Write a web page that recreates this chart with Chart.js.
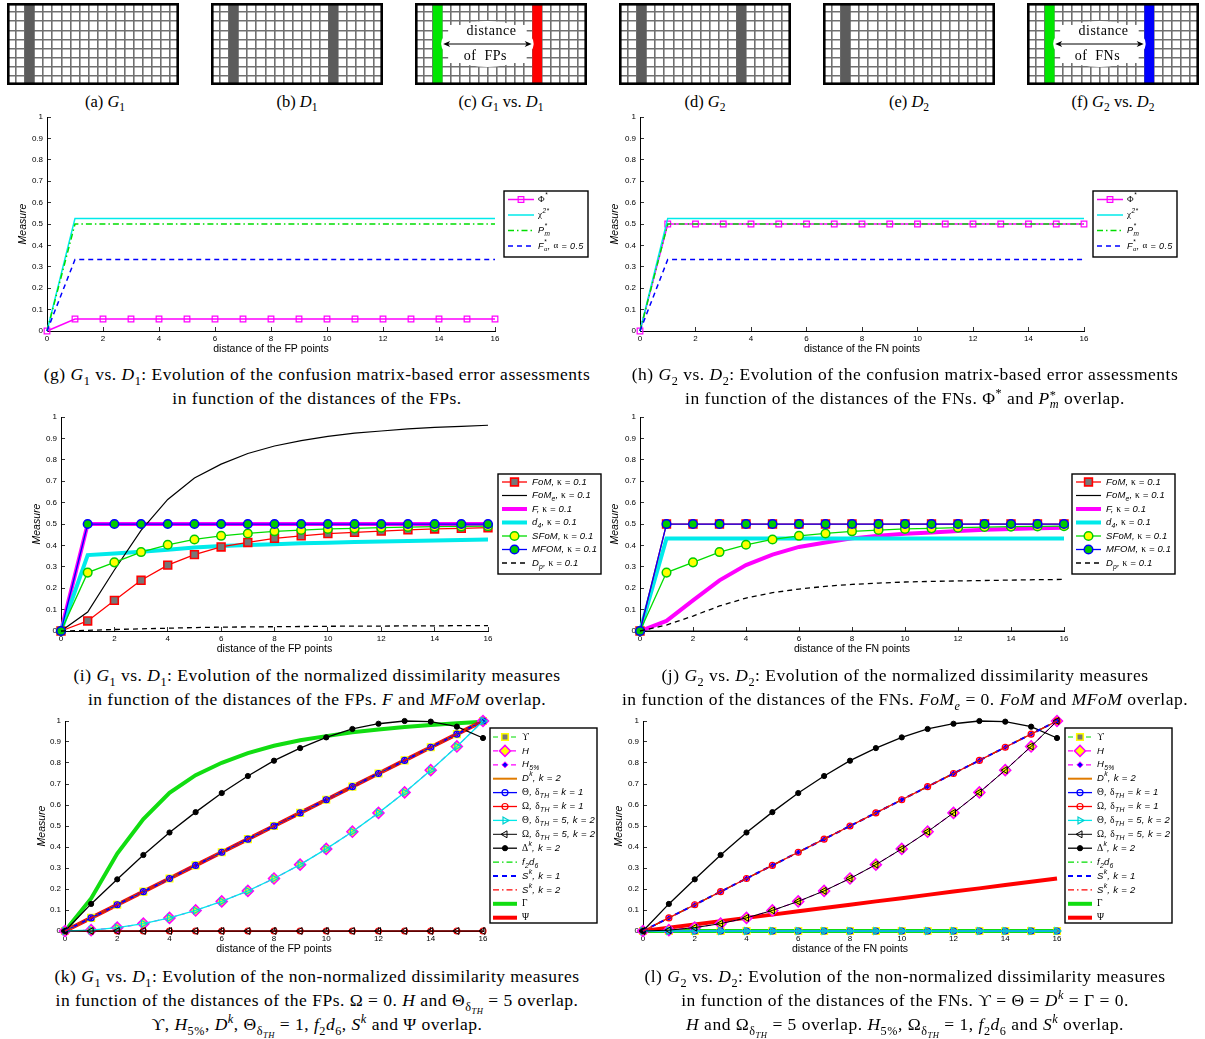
<!DOCTYPE html>
<html>
<head>
<meta charset="utf-8">
<title>Evolution of the error assessments in function of the distances of the FPs / FNs</title>
<script src="https://cdn.jsdelivr.net/npm/chart.js"></script>
<style>
  body { margin: 0; background: #fff; }
  #page { position: relative; width: 1205px; height: 1039px; overflow: hidden; background: #fff; }
  canvas { position: absolute; }
  .cap { position: absolute; width: 600px; text-align: center; font-family: "Liberation Serif", "Times New Roman", serif;
         font-size: 17.5px; letter-spacing: 0.5px; line-height: 24px; color: #000; white-space: nowrap; }
  .capTop { position: absolute; width: 172px; top: 91px; text-align: center; font-family: "Liberation Serif", serif;
            font-size: 16.5px; line-height: 22px; white-space: nowrap; }
  sub, sup { font-size: 70%; line-height: 0; }
  .ss { display: inline-block; vertical-align: -4px; font-size: 70%; line-height: 9px; text-align: left; }
  .ss span { display: block; }
</style>
</head>
<body>
<div id="page">
  <canvas id="ga" width="172" height="82" style="left:7px;top:3px"></canvas>
  <canvas id="gb" width="172" height="82" style="left:211px;top:3px"></canvas>
  <canvas id="gc" width="172" height="82" style="left:415px;top:3px"></canvas>
  <canvas id="gd" width="172" height="82" style="left:619px;top:3px"></canvas>
  <canvas id="ge" width="172" height="82" style="left:823px;top:3px"></canvas>
  <canvas id="gf" width="172" height="82" style="left:1027px;top:3px"></canvas>
  <div class="capTop" style="left:19px">(a) <i>G</i><sub>1</sub></div>
  <div class="capTop" style="left:211px">(b) <i>D</i><sub>1</sub></div>
  <div class="capTop" style="left:415px">(c) <i>G</i><sub>1</sub> vs. <i>D</i><sub>1</sub></div>
  <div class="capTop" style="left:619px">(d) <i>G</i><sub>2</sub></div>
  <div class="capTop" style="left:823px">(e) <i>D</i><sub>2</sub></div>
  <div class="capTop" style="left:1027px">(f) <i>G</i><sub>2</sub> vs. <i>D</i><sub>2</sub></div>

  <canvas id="cg" width="605" height="250" style="left:0px;top:110px"></canvas>
  <canvas id="ch" width="605" height="250" style="left:600px;top:110px"></canvas>
  <canvas id="ci" width="605" height="250" style="left:0px;top:410px"></canvas>
  <canvas id="cj" width="605" height="250" style="left:600px;top:410px"></canvas>
  <canvas id="ck" width="605" height="250" style="left:0px;top:712px"></canvas>
  <canvas id="cl" width="605" height="250" style="left:600px;top:712px"></canvas>

  <div class="cap" style="left:17px;top:362px">(g) <i>G</i><sub>1</sub> vs. <i>D</i><sub>1</sub>: Evolution of the confusion matrix-based error assessments<br>in function of the distances of the FPs.</div>
  <div class="cap" style="left:605px;top:362px">(h) <i>G</i><sub>2</sub> vs. <i>D</i><sub>2</sub>: Evolution of the confusion matrix-based error assessments<br>in function of the distances of the FNs. Φ<sup>*</sup> and <i>P</i><span class="ss"><span>*</span><span><i>m</i></span></span> overlap.</div>
  <div class="cap" style="left:17px;top:663px">(i) <i>G</i><sub>1</sub> vs. <i>D</i><sub>1</sub>: Evolution of the normalized dissimilarity measures<br>in function of the distances of the FPs. <i>F</i> and <i>MFoM</i> overlap.</div>
  <div class="cap" style="left:605px;top:663px">(j) <i>G</i><sub>2</sub> vs. <i>D</i><sub>2</sub>: Evolution of the normalized dissimilarity measures<br>in function of the distances of the FNs. <i>FoM<sub>e</sub></i> = 0. <i>FoM</i> and <i>MFoM</i> overlap.</div>
  <div class="cap" style="left:17px;top:964px">(k) <i>G</i><sub>1</sub> vs. <i>D</i><sub>1</sub>: Evolution of the non-normalized dissimilarity measures<br>in function of the distances of the FPs. Ω = 0. <i>H</i> and Θ<sub>δ<sub><i>TH</i></sub></sub> = 5 overlap.<br>ϒ, <i>H</i><sub>5%</sub>, <i>D<sup>k</sup></i>, Θ<sub>δ<sub><i>TH</i></sub></sub> = 1, <i>f</i><sub>2</sub><i>d</i><sub>6</sub>, <i>S<sup>k</sup></i> and Ψ overlap.</div>
  <div class="cap" style="left:605px;top:964px">(l) <i>G</i><sub>2</sub> vs. <i>D</i><sub>2</sub>: Evolution of the non-normalized dissimilarity measures<br>in function of the distances of the FNs. ϒ = Θ = <i>D<sup>k</sup></i> = Γ = 0.<br><i>H</i> and Ω<sub>δ<sub><i>TH</i></sub></sub> = 5 overlap. <i>H</i><sub>5%</sub>, Ω<sub>δ<sub><i>TH</i></sub></sub> = 1, <i>f</i><sub>2</sub><i>d</i><sub>6</sub> and <i>S<sup>k</sup></i> overlap.</div>
</div>

<script>
// ---- data ----
const xDist = [0, 1, 2, 3, 4, 5, 6, 7, 8, 9, 10, 11, 12, 13, 14, 15, 16];

// small grid images (columns holding edge pixels)
const gridCols = 19;
const gridRows = 9;
const colsG1 = [2];
const colsD1 = [2, 13];
const colsG2 = [2, 13];
const colsD2 = [2];

// (g) G1 vs D1, confusion matrix based
const gPhi = [0, 0.056, 0.056, 0.056, 0.056, 0.056, 0.056, 0.056, 0.056, 0.056, 0.056, 0.056, 0.056, 0.056, 0.056, 0.056, 0.056];
const gChi = [0, 0.526, 0.526, 0.526, 0.526, 0.526, 0.526, 0.526, 0.526, 0.526, 0.526, 0.526, 0.526, 0.526, 0.526, 0.526, 0.526];
const gPm  = [0, 0.5, 0.5, 0.5, 0.5, 0.5, 0.5, 0.5, 0.5, 0.5, 0.5, 0.5, 0.5, 0.5, 0.5, 0.5, 0.5];
const gFa  = [0, 0.334, 0.334, 0.334, 0.334, 0.334, 0.334, 0.334, 0.334, 0.334, 0.334, 0.334, 0.334, 0.334, 0.334, 0.334, 0.334];

// (h) G2 vs D2, confusion matrix based
const hPhi = [0, 0.5, 0.5, 0.5, 0.5, 0.5, 0.5, 0.5, 0.5, 0.5, 0.5, 0.5, 0.5, 0.5, 0.5, 0.5, 0.5];
const hChi = [0, 0.526, 0.526, 0.526, 0.526, 0.526, 0.526, 0.526, 0.526, 0.526, 0.526, 0.526, 0.526, 0.526, 0.526, 0.526, 0.526];
const hPm  = [0, 0.5, 0.5, 0.5, 0.5, 0.5, 0.5, 0.5, 0.5, 0.5, 0.5, 0.5, 0.5, 0.5, 0.5, 0.5, 0.5];
const hFa  = [0, 0.334, 0.334, 0.334, 0.334, 0.334, 0.334, 0.334, 0.334, 0.334, 0.334, 0.334, 0.334, 0.334, 0.334, 0.334, 0.334];

// (i) G1 vs D1, normalized
const iFoM  = [0, 0.047, 0.143, 0.237, 0.308, 0.357, 0.393, 0.414, 0.433, 0.445, 0.455, 0.461, 0.467, 0.473, 0.477, 0.48, 0.483];
const iFoMe = [0, 0.089, 0.285, 0.47, 0.615, 0.715, 0.78, 0.83, 0.865, 0.89, 0.91, 0.925, 0.935, 0.945, 0.952, 0.957, 0.962];
const iF    = [0, 0.5, 0.5, 0.5, 0.5, 0.5, 0.5, 0.5, 0.5, 0.5, 0.5, 0.5, 0.5, 0.5, 0.5, 0.5, 0.5];
const iD4   = [0, 0.355, 0.362, 0.37, 0.38, 0.39, 0.397, 0.402, 0.406, 0.41, 0.413, 0.416, 0.419, 0.421, 0.423, 0.426, 0.428];
const iSFoM = [0, 0.273, 0.321, 0.369, 0.403, 0.428, 0.445, 0.456, 0.466, 0.472, 0.477, 0.48, 0.483, 0.486, 0.488, 0.489, 0.49];
const iMFoM = [0, 0.5, 0.5, 0.5, 0.5, 0.5, 0.5, 0.5, 0.5, 0.5, 0.5, 0.5, 0.5, 0.5, 0.5, 0.5, 0.5];
const iDp   = [0, 0.003, 0.007, 0.01, 0.013, 0.016, 0.018, 0.019, 0.02, 0.021, 0.022, 0.023, 0.023, 0.024, 0.024, 0.025, 0.025];

// (j) G2 vs D2, normalized
const jFoM  = [0, 0.5, 0.5, 0.5, 0.5, 0.5, 0.5, 0.5, 0.5, 0.5, 0.5, 0.5, 0.5, 0.5, 0.5, 0.5, 0.5];
const jFoMe = [0, 0, 0, 0, 0, 0, 0, 0, 0, 0, 0, 0, 0, 0, 0, 0, 0];
const jF    = [0, 0.047, 0.143, 0.237, 0.308, 0.357, 0.393, 0.414, 0.433, 0.445, 0.455, 0.461, 0.467, 0.473, 0.477, 0.48, 0.483];
const jD4   = [0, 0.433, 0.433, 0.433, 0.433, 0.433, 0.433, 0.433, 0.433, 0.433, 0.433, 0.433, 0.433, 0.433, 0.433, 0.433, 0.433];
const jSFoM = [0, 0.273, 0.321, 0.369, 0.403, 0.428, 0.445, 0.456, 0.466, 0.472, 0.477, 0.48, 0.483, 0.486, 0.488, 0.489, 0.49];
const jMFoM = [0, 0.5, 0.5, 0.5, 0.5, 0.5, 0.5, 0.5, 0.5, 0.5, 0.5, 0.5, 0.5, 0.5, 0.5, 0.5, 0.5];
const jDp   = [0, 0.028, 0.07, 0.117, 0.154, 0.179, 0.196, 0.209, 0.218, 0.224, 0.229, 0.232, 0.234, 0.236, 0.238, 0.24, 0.241];

// (k) / (l) non-normalized: the overlapping curves share one read-off series each
const onLine   = [0, 0.0625, 0.125, 0.1875, 0.25, 0.3125, 0.375, 0.4375, 0.5, 0.5625, 0.625, 0.6875, 0.75, 0.8125, 0.875, 0.9375, 1];
const onCurve  = [0, 0.004, 0.016, 0.035, 0.0625, 0.098, 0.141, 0.191, 0.25, 0.316, 0.391, 0.473, 0.5625, 0.66, 0.766, 0.879, 1];
const atZero   = [0, 0, 0, 0, 0, 0, 0, 0, 0, 0, 0, 0, 0, 0, 0, 0, 0];
const deltaK   = [0, 0.129, 0.246, 0.362, 0.469, 0.566, 0.657, 0.738, 0.811, 0.871, 0.922, 0.962, 0.987, 1, 0.997, 0.973, 0.919];
const kGamma   = [0, 0.155, 0.369, 0.533, 0.658, 0.742, 0.801, 0.847, 0.882, 0.908, 0.928, 0.946, 0.96, 0.971, 0.981, 0.989, 0.997];
const lPsi     = [0, 0.016, 0.031, 0.047, 0.0625, 0.078, 0.094, 0.109, 0.125, 0.141, 0.156, 0.172, 0.188, 0.203, 0.219, 0.234, 0.25];

// ---- helpers ----
const SANS = '"Liberation Sans", Arial, sans-serif';
const SERIF = '"Liberation Serif", "Times New Roman", serif';
Chart.defaults.font.family = SANS;
Chart.defaults.color = '#000';

const DASH = [5, 4];
const DASHDOT = [6, 3, 1.5, 3];

function ds(label, rich, data, st) {
  return {
    label: label,
    rich: rich,
    data: data.map((v, i) => ({ x: xDist[i], y: v })),
    borderColor: st.c,
    borderWidth: st.w || 1.3,
    borderDash: st.dash || [],
    pointRadius: st.r || 0,
    pointHoverRadius: st.r || 0,
    pointStyle: st.ps || 'circle',
    pointRotation: st.rot || 0,
    pointBackgroundColor: st.fill || 'rgba(0,0,0,0)',
    pointBorderColor: st.pc || st.c,
    pointBorderWidth: st.pw || 1,
    tension: 0,
    fill: false,
    clip: false
  };
}

// matlab draws later lines on top, thick lines sit underneath the markers
function stack(list) {
  const n = list.length;
  list.forEach((d, i) => { d.order = (d.borderWidth >= 3 ? 100 : 0) + (n - i); });
  return list;
}

function isGreek(ch) { return /[\u0370-\u03FF]/.test(ch); }

// text with ^{..} and _{..}, latin in italic sans, greek upright serif
function drawRich(ctx, str, x, y, size, ls) {
  const runs = [];
  let mode = 0, buf = '';
  const push = () => { if (buf) runs.push({ t: buf, m: mode }); buf = ''; };
  for (let i = 0; i < str.length; i++) {
    const c = str[i];
    if ((c === '^' || c === '_') && str[i + 1] === '{') { push(); mode = c === '^' ? 1 : 2; i++; continue; }
    if (c === '}' && mode) { push(); mode = 0; continue; }
    buf += c;
  }
  push();
  ctx.textBaseline = 'middle';
  ctx.textAlign = 'left';
  ctx.fillStyle = '#000';
  if ('letterSpacing' in ctx) ctx.letterSpacing = (ls || 0) + 'px';
  let cx = x, supX = x, supEnd = x;
  runs.forEach((r, k) => {
    const fs = r.m ? size * 0.72 : size;
    const dy = r.m === 1 ? -size * 0.45 : (r.m === 2 ? size * 0.38 : 0);
    const stacked = r.m === 2 && k > 0 && runs[k - 1].m === 1;
    let px = stacked ? supX : cx;
    if (r.m === 1) supX = cx;
    let seg = '', segG = null;
    const flush = () => {
      if (!seg) return;
      ctx.font = segG ? fs + 'px ' + SERIF : 'italic ' + fs + 'px ' + SANS;
      ctx.fillText(seg, px, y + dy);
      px += ctx.measureText(seg).width;
      seg = '';
    };
    for (const ch of r.t) {
      const g = isGreek(ch);
      if (segG !== null && g !== segG) flush();
      segG = g;
      seg += ch;
    }
    flush();
    if (r.m === 1) supEnd = px;
    cx = stacked ? Math.max(supEnd, px) : px;
  });
  if ('letterSpacing' in ctx) ctx.letterSpacing = '0px';
}

const richLegend = {
  id: 'richLegend',
  afterDraw(chart, args, o) {
    if (!o || !o.w) return;
    const ctx = chart.ctx;
    ctx.save();
    ctx.setLineDash([]);
    ctx.fillStyle = '#fff';
    ctx.fillRect(o.x, o.y, o.w, o.h);
    ctx.lineWidth = 1.4;
    ctx.strokeStyle = '#000';
    ctx.strokeRect(o.x, o.y, o.w, o.h);
    chart.data.datasets.forEach((d, i) => {
      const y = o.y + o.first + i * o.step;
      ctx.save();
      ctx.strokeStyle = d.borderColor;
      ctx.lineWidth = d.borderWidth;
      ctx.setLineDash(d.borderDash);
      ctx.beginPath();
      ctx.moveTo(o.x + o.s0, y);
      ctx.lineTo(o.x + o.s1, y);
      ctx.stroke();
      ctx.restore();
      if (d.pointRadius > 0) {
        ctx.save();
        ctx.setLineDash([]);
        ctx.fillStyle = d.pointBackgroundColor;
        ctx.strokeStyle = d.pointBorderColor;
        ctx.lineWidth = d.pointBorderWidth;
        Chart.helpers.drawPoint(ctx, { pointStyle: d.pointStyle, rotation: d.pointRotation, radius: d.pointRadius, borderWidth: d.pointBorderWidth }, o.x + (o.s0 + o.s1) / 2, y);
        ctx.restore();
      }
      drawRich(ctx, d.rich, o.x + o.tx, y, o.font, o.ls);
    });
    ctx.restore();
  }
};

const tickText = v => String(Math.round(v * 100) / 100);

function lineChart(id, geo, xTitle, datasets, lg) {
  const lh = 10.5 * 1.2;
  new Chart(document.getElementById(id), {
    type: 'line',
    data: { datasets: stack(datasets) },
    options: {
      responsive: false,
      animation: false,
      events: [],
      layout: { padding: { left: 0, bottom: 0, top: geo.ay0 - geo.cy, right: geo.cx + geo.cw - geo.ax1 } },
      plugins: {
        legend: { display: false },
        tooltip: { enabled: false },
        richLegend: {
          x: lg.x - geo.cx, y: lg.y - geo.cy, w: lg.w, h: lg.h,
          first: lg.first, step: lg.step, s0: lg.s0, s1: lg.s1, tx: lg.tx, font: lg.font, ls: lg.ls
        }
      },
      scales: {
        x: {
          type: 'linear', min: 0, max: 16,
          ticks: { stepSize: 2, font: { size: 8 }, color: '#000', padding: 7, maxRotation: 0, callback: tickText },
          grid: { drawOnChartArea: false, tickLength: -4, color: '#000', lineWidth: 0.8 },
          border: { color: '#000', width: 1 },
          title: { display: true, text: xTitle, color: '#000', font: { size: 10.5 },
                   padding: { top: 0, bottom: geo.cy + geo.ch - geo.xty - lh / 2 } },
          afterFit: s => { s.height = geo.cy + geo.ch - geo.ay1; s.paddingLeft = 0; s.paddingRight = 0; }
        },
        y: {
          min: 0, max: 1,
          ticks: { stepSize: 0.1, font: { size: 8 }, color: '#000', padding: 8, callback: tickText },
          grid: { drawOnChartArea: false, tickLength: -4, color: '#000', lineWidth: 0.8 },
          border: { color: '#000', width: 1 },
          title: { display: true, text: 'Measure', color: '#000', font: { size: 10.5, style: 'italic' },
                   padding: { top: geo.ytx - geo.cx - lh / 2, bottom: 0 } },
          afterFit: s => { s.width = geo.ax0 - geo.cx; s.paddingTop = 0; s.paddingBottom = 0; }
        }
      }
    },
    plugins: [richLegend]
  });
}

// ---- small grid pictures ----
const framePlugin = {
  id: 'frame',
  afterDraw(chart, args, o) {
    const ctx = chart.ctx, a = chart.chartArea;
    ctx.save();
    if (o && o.top) {
      const xs = chart.scales.x, ys = chart.scales.y;
      const cw = a.width / gridCols;
      const x0 = xs.getPixelForValue(3) - cw / 2 + 1, x1 = xs.getPixelForValue(13) - cw / 2 - 1;
      const yb0 = ys.getPixelForValue(6.7), yb1 = ys.getPixelForValue(2.3);
      ctx.fillStyle = '#fff';
      ctx.beginPath();
      ctx.ellipse((x0 + x1) / 2, (yb0 + yb1) / 2, (x1 - x0) / 2 + 2, (yb1 - yb0) / 2 + 3, 0, 0, Math.PI * 2);
      ctx.fill();
      ctx.fillRect(x0 + 5, yb0 + 1, x1 - x0 - 10, yb1 - yb0 - 2);
      const ya = ys.getPixelForValue(4.5);
      ctx.strokeStyle = '#000'; ctx.fillStyle = '#000'; ctx.lineWidth = 1;
      ctx.beginPath(); ctx.moveTo(x0 + 3, ya); ctx.lineTo(x1 - 3, ya); ctx.stroke();
      [[x0, 1], [x1, -1]].forEach(([px, dir]) => {
        ctx.beginPath(); ctx.moveTo(px, ya); ctx.lineTo(px + dir * 7, ya - 3); ctx.lineTo(px + dir * 5, ya); ctx.lineTo(px + dir * 7, ya + 3); ctx.closePath(); ctx.fill();
      });
      ctx.font = '14px ' + SERIF;
      if ('letterSpacing' in ctx) ctx.letterSpacing = '0.5px';
      ctx.textAlign = 'center'; ctx.textBaseline = 'middle';
      ctx.fillText(o.top, (x0 + x1) / 2 + 4, ys.getPixelForValue(5.9));
      ctx.fillText(o.bottom, (x0 + x1) / 2 - 2, ys.getPixelForValue(3.1));
      if ('letterSpacing' in ctx) ctx.letterSpacing = '0px';
    }
    ctx.strokeStyle = '#000';
    ctx.lineWidth = 2.6;
    ctx.strokeRect(a.left + 1.3, a.top + 1.3, a.width - 2.6, a.height - 2.6);
    ctx.restore();
  }
};

function gridChart(id, cols, colors, note) {
  const labels = [], data = [], bg = [];
  for (let c = 0; c < gridCols; c++) {
    const k = cols.indexOf(c);
    labels.push(String(c));
    data.push(k >= 0 ? gridRows : 0);
    bg.push(k >= 0 ? colors[k] : '#fff');
  }
  new Chart(document.getElementById(id), {
    type: 'bar',
    data: { labels: labels, datasets: [{ data: data, backgroundColor: bg, borderWidth: 0, barPercentage: 1, categoryPercentage: 1 }] },
    options: {
      responsive: false, animation: false, events: [],
      layout: { padding: 0 },
      plugins: { legend: { display: false }, tooltip: { enabled: false }, frame: note || {} },
      scales: {
        x: { z: 1, ticks: { display: false }, grid: { offset: true, color: '#707070', lineWidth: 1.6, drawTicks: false },
             border: { display: false }, afterFit: s => { s.height = 0; } },
        y: { z: 1, min: 0, max: gridRows, ticks: { display: false, stepSize: 1 },
             grid: { color: '#707070', lineWidth: 1.6, drawTicks: false },
             border: { display: false }, afterFit: s => { s.width = 0; } }
      }
    },
    plugins: [framePlugin]
  });
}

const DARK = '#5c5c5c';
gridChart('ga', colsG1, [DARK]);
gridChart('gb', colsD1, [DARK, DARK]);
gridChart('gc', colsD1, ['#00e600', '#ff0000'], { top: 'distance', bottom: 'of  FPs' });
gridChart('gd', colsG2, [DARK, DARK]);
gridChart('ge', colsD2, [DARK]);
gridChart('gf', colsG2, ['#00e600', '#0000ff'], { top: 'distance', bottom: 'of  FNs' });

// ---- line charts ----
const CYAN = '#00eaea', GREEN = '#00dd00', MAG = '#ff00ff', BLUE = '#0000ff', RED = '#ff0000', ORANGE = '#e07b00';

function confusionSets(phi, chi, pm, fa) {
  return [
    ds('Φ*', 'Φ^{*}', phi, { c: MAG, w: 1.5, r: 4, ps: 'rect', pc: MAG, pw: 1.2 }),
    ds('χ2*', 'χ^{2*}', chi, { c: CYAN, w: 1.5 }),
    ds('P*m', 'P^{*}_{m}', pm, { c: GREEN, w: 1.5, dash: DASHDOT }),
    ds('F*α, α = 0.5', 'F^{*}_{α}, α = 0.5', fa, { c: BLUE, w: 1.5, dash: DASH })
  ];
}
function normSets(fom, fome, f, d4, sfom, mfom, dp) {
  return [
    ds('FoM, κ = 0.1', 'FoM, κ = 0.1', fom, { c: RED, w: 1.3, r: 5.5, ps: 'rect', fill: '#777777', pc: RED, pw: 1.6 }),
    ds('FoMe, κ = 0.1', 'FoM_{e}, κ = 0.1', fome, { c: '#000', w: 1.2 }),
    ds('F, κ = 0.1', 'F, κ = 0.1', f, { c: MAG, w: 4 }),
    ds('d4, κ = 0.1', 'd_{4}, κ = 0.1', d4, { c: CYAN, w: 4 }),
    ds('SFoM, κ = 0.1', 'SFoM, κ = 0.1', sfom, { c: GREEN, w: 1.3, r: 4.3, fill: '#ffff00', pc: '#00cc00', pw: 1.5 }),
    ds('MFOM, κ = 0.1', 'MFOM, κ = 0.1', mfom, { c: BLUE, w: 1.3, r: 4.3, fill: '#00cc00', pc: BLUE, pw: 1.5 }),
    ds('Dp, κ = 0.1', 'D_{p}, κ = 0.1', dp, { c: '#000', w: 1.3, dash: DASH })
  ];
}
function rawSets(s) {
  return [
    ds('ϒ', 'ϒ', s.upsilon, { c: GREEN, w: 1.2, dash: DASH, r: 4.6, ps: 'rect', fill: '#777777', pc: '#ffff00', pw: 1.6 }),
    ds('H', 'H', s.h, { c: MAG, w: 1.2, dash: DASH, r: 5.5, ps: 'rectRot', fill: '#ffff00', pc: MAG, pw: 1.5 }),
    ds('H5%', 'H_{5%}', s.h5, { c: MAG, w: 1.2, dash: DASH, r: 3, ps: 'rectRot', fill: BLUE, pc: MAG, pw: 1 }),
    ds('Dk, k = 2', 'D^{k}, k = 2', s.dk, { c: ORANGE, w: 2 }),
    ds('Θ, δTH = k = 1', 'Θ, δ_{TH} = k = 1', s.theta1, { c: BLUE, w: 1.3, r: 3, pc: BLUE, pw: 1.2 }),
    ds('Ω, δTH = k = 1', 'Ω, δ_{TH} = k = 1', s.omega1, { c: RED, w: 1.3, r: 3, pc: RED, pw: 1.2 }),
    ds('Θ, δTH = 5, k = 2', 'Θ, δ_{TH} = 5, k = 2', s.theta5, { c: CYAN, w: 1.3, r: 4, ps: 'triangle', rot: 90, pc: '#00d0d0', pw: 1.2 }),
    ds('Ω, δTH = 5, k = 2', 'Ω, δ_{TH} = 5, k = 2', s.omega5, { c: '#000', w: 1, r: 4, ps: 'triangle', rot: -90, pc: '#000', pw: 1 }),
    ds('Δk, k = 2', 'Δ^{k}, k = 2', s.delta, { c: '#000', w: 1.3, r: 2.6, fill: '#000', pc: '#000', pw: 1 }),
    ds('f2d6', 'f_{2}d_{6}', s.f2d6, { c: GREEN, w: 1.3, dash: DASHDOT }),
    ds('Sk, k = 1', 'S^{k}, k = 1', s.s1, { c: BLUE, w: 2, dash: DASH }),
    ds('Sk, k = 2', 'S^{k}, k = 2', s.s2, { c: RED, w: 1.3, dash: DASHDOT }),
    ds('Γ', 'Γ', s.gamma, { c: '#11dd11', w: 4 }),
    ds('Ψ', 'Ψ', s.psi, { c: RED, w: 4 })
  ];
}

const lgConf = { w: 84, h: 66, first: 8.5, step: 15.5, s0: 4, s1: 30, tx: 34, font: 9, ls: 0.4 };
const lgNorm = { w: 103, h: 100, first: 8, step: 13.5, s0: 4, s1: 29, tx: 34, font: 9.5, ls: 0.15 };
const lgRaw = { w: 107, h: 195, first: 9, step: 13.9, s0: 3, s1: 27, tx: 32, font: 9.5, ls: 0.3 };

lineChart('cg', { cx: 0, cy: 110, cw: 605, ch: 250, ax0: 47, ax1: 495, ay0: 117, ay1: 331, ytx: 23, xty: 349 },
  'distance of the FP points', confusionSets(gPhi, gChi, gPm, gFa), Object.assign({ x: 504, y: 191 }, lgConf));
lineChart('ch', { cx: 600, cy: 110, cw: 605, ch: 250, ax0: 640, ax1: 1084, ay0: 117, ay1: 331, ytx: 615, xty: 349 },
  'distance of the FN points', confusionSets(hPhi, hChi, hPm, hFa), Object.assign({ x: 1093, y: 191 }, lgConf));
lineChart('ci', { cx: 0, cy: 410, cw: 605, ch: 250, ax0: 61, ax1: 488, ay0: 417, ay1: 631, ytx: 37, xty: 649 },
  'distance of the FP points', normSets(iFoM, iFoMe, iF, iD4, iSFoM, iMFoM, iDp), Object.assign({ x: 498, y: 474 }, lgNorm));
lineChart('cj', { cx: 600, cy: 410, cw: 605, ch: 250, ax0: 640, ax1: 1064, ay0: 417, ay1: 631, ytx: 615, xty: 649 },
  'distance of the FN points', normSets(jFoM, jFoMe, jF, jD4, jSFoM, jMFoM, jDp), Object.assign({ x: 1072, y: 474 }, lgNorm));
lineChart('ck', { cx: 0, cy: 712, cw: 605, ch: 250, ax0: 65, ax1: 483, ay0: 721, ay1: 931, ytx: 42, xty: 949 },
  'distance of the FP points', rawSets({
    upsilon: onLine, h: onCurve, h5: onLine, dk: onLine, theta1: onLine, omega1: atZero, theta5: onCurve,
    omega5: atZero, delta: deltaK, f2d6: onLine, s1: onLine, s2: onLine, gamma: kGamma, psi: onLine
  }), Object.assign({ x: 490, y: 728 }, lgRaw));
lineChart('cl', { cx: 600, cy: 712, cw: 605, ch: 250, ax0: 643, ax1: 1057, ay0: 721, ay1: 931, ytx: 619, xty: 949 },
  'distance of the FN points', rawSets({
    upsilon: atZero, h: onCurve, h5: onLine, dk: atZero, theta1: atZero, omega1: onLine, theta5: atZero,
    omega5: onCurve, delta: deltaK, f2d6: onLine, s1: onLine, s2: onLine, gamma: atZero, psi: lPsi
  }), Object.assign({ x: 1065, y: 728 }, lgRaw));
</script>
</body>
</html>
